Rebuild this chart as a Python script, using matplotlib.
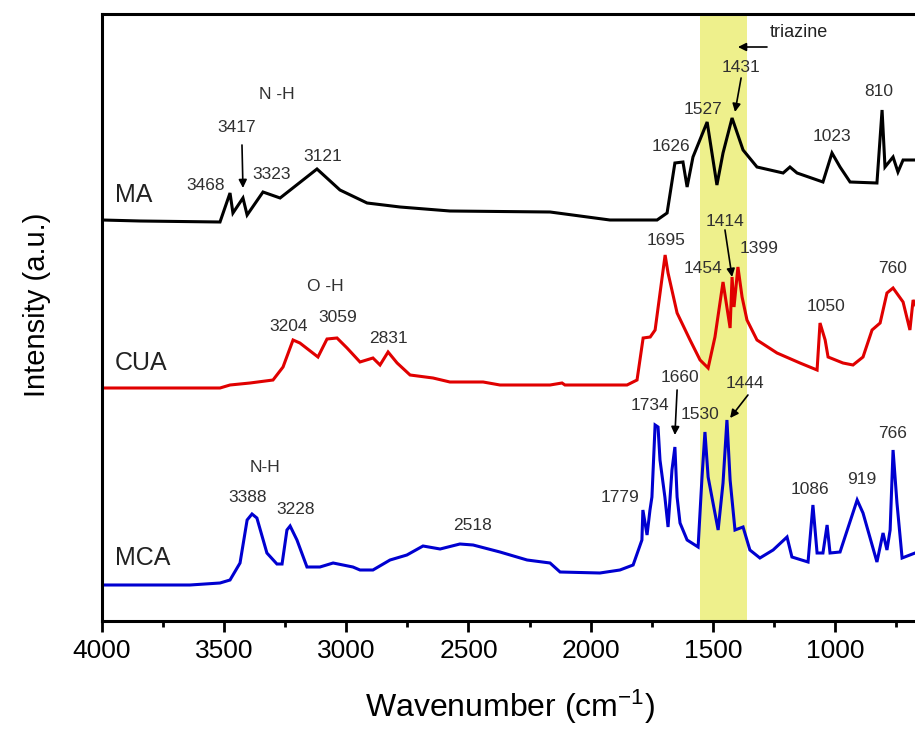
import matplotlib
matplotlib.use("Agg")
import matplotlib.pyplot as plt

plt.rcParams['font.family'] = ['Liberation Sans', 'DejaVu Sans']
plt.rcParams['mathtext.default'] = 'regular'

# FTIR spectra: wavenumber (cm-1) and intensity (a.u., already offset)
ma_wn = [4000, 3844, 3517, 3476, 3464, 3423, 3406, 3341, 3271, 3120, 3026, 2915,
         2780, 2576, 2166, 1921, 1728, 1687, 1655, 1622, 1605, 1581, 1523, 1483,
         1458, 1421, 1376, 1319, 1212, 1184, 1155, 1049, 1012, 979, 938, 828, 807,
         795, 762, 742, 721, 672, 600]
ma_int = [401, 400, 399, 428, 408, 423, 406, 429, 423, 452, 431, 418,
          414, 410, 409, 401, 401, 408, 458, 459, 434, 464, 499, 436,
          468, 503, 471, 454, 448, 454, 448, 439, 468, 454, 439, 438, 511,
          454, 464, 449, 461, 461, 458]

cua_wn = [4000, 3517, 3476, 3394, 3300, 3259, 3218, 3190, 3116, 3079, 3038, 2997,
          2944, 2891, 2862, 2829, 2792, 2739, 2645, 2576, 2440, 2371, 2166, 2117,
          2105, 1851, 1810, 1785, 1756, 1736, 1695, 1683, 1646, 1593, 1552, 1519,
          1491, 1458, 1429, 1421, 1413, 1397, 1380, 1360, 1319, 1237, 1143, 1073,
          1061, 1040, 1028, 967, 926, 885, 848, 815, 787, 762, 721, 693, 680, 660]
cua_int = [233, 233, 236, 238, 241, 254, 281, 278, 264, 282, 283, 273,
           259, 263, 256, 269, 258, 246, 243, 239, 239, 236, 236, 238,
           236, 236, 241, 283, 284, 291, 366, 348, 308, 281, 261, 253,
           284, 339, 293, 344, 314, 354, 324, 301, 281, 268, 258, 251,
           298, 281, 264, 258, 256, 264, 291, 298, 328, 333, 319, 291, 321, 311]

mca_wn = [4000, 3640, 3517, 3476, 3435, 3406, 3386, 3366, 3325, 3284, 3263, 3243,
          3230, 3202, 3161, 3108, 3054, 2973, 2944, 2891, 2821, 2752, 2686, 2616,
          2535, 2481, 2371, 2260, 2166, 2125, 1962, 1880, 1826, 1790, 1786, 1769,
          1757, 1749, 1736, 1724, 1716, 1696, 1683, 1667, 1655, 1646, 1634, 1605,
          1560, 1544, 1532, 1519, 1478, 1458, 1442, 1429, 1409, 1376, 1348, 1307,
          1253, 1196, 1176, 1110, 1090, 1073, 1049, 1032, 1020, 979, 909, 885,
          828, 803, 787, 774, 762, 746, 725, 672, 610]
mca_int = [36, 36, 38, 41, 58, 101, 107, 103, 68, 57, 57, 91,
           95, 81, 54, 54, 58, 54, 51, 51, 61, 66, 75, 72,
           77, 76, 69, 61, 58, 49, 48, 51, 56, 81, 111, 86,
           111, 124, 196, 194, 161, 124, 94, 151, 174, 124, 98, 81,
           74, 144, 189, 144, 91, 138, 201, 141, 91, 94, 71, 63,
           71, 84, 64, 59, 116, 68, 68, 96, 68, 69, 121, 108,
           59, 88, 71, 91, 171, 118, 63, 68, 66]

sample_names = ["MA", "CUA", "MCA"]
sample_colors = ["black", "#e00000", "#0000d0"]

# peak labels: (text, wavenumber, intensity) for label placement
ma_peaks = [("3468", 3574, 435), ("3417", 3447, 493), ("3323", 3304, 446),
            ("3121", 3095, 464), ("N -H", 3284, 526), ("1626", 1671, 474),
            ("1527", 1540, 511), ("1431", 1384, 553), ("1023", 1012, 484),
            ("810", 820, 529)]
cua_peaks = [("O -H", 3087, 334), ("3204", 3235, 294), ("3059", 3034, 303),
             ("2831", 2829, 282), ("1695", 1691, 380), ("1414", 1450, 399),
             ("1454", 1540, 352), ("1399", 1311, 372), ("1050", 1036, 314),
             ("760", 766, 352)]
mca_peaks = [("N-H", 3333, 153), ("3388", 3402, 123), ("3228", 3206, 112),
             ("2518", 2485, 95), ("1779", 1880, 123), ("1734", 1757, 215),
             ("1660", 1634, 243), ("1530", 1552, 206), ("1444", 1368, 237),
             ("1086", 1102, 131), ("919", 889, 142), ("766", 766, 188)]

# arrows: (start wn, start int, end wn, end int)
arrows = [(3427, 476, 3423, 433), (1384, 543, 1409, 509), (1278, 574, 1397, 574),
          (1450, 391, 1421, 344), (1646, 231, 1655, 186), (1356, 226, 1429, 203)]

triazine_band = (1552, 1360)

fig = plt.figure(figsize=(9.15, 7.37), dpi=100)
ax = fig.add_axes([102 / 915, 116 / 737, 0.9612, 607 / 737])

ax.axvspan(triazine_band[0], triazine_band[1], color="#eef08c", zorder=0, lw=0)

for wn, inten, c in zip([ma_wn, cua_wn, mca_wn], [ma_int, cua_int, mca_int], sample_colors):
    ax.plot(wn, inten, color=c, lw=2.2, solid_joinstyle='miter', zorder=2)

ax.text(3947, 426, "MA", fontsize=18, color="#222222", va="center", ha="left")
ax.text(3947, 258, "CUA", fontsize=18, color="#222222", va="center", ha="left")
ax.text(3947, 63, "MCA", fontsize=18, color="#222222", va="center", ha="left")

for peaks in [ma_peaks, cua_peaks, mca_peaks]:
    for txt, x, y in peaks:
        ax.text(x, y, txt, fontsize=12.5, color="#303030", ha="center", va="center", zorder=3)

ax.text(1266, 588, "triazine", fontsize=13, color="#222222", ha="left", va="center")

for x0, y0, x1, y1 in arrows:
    ax.annotate("", xy=(x1, y1), xytext=(x0, y0),
                arrowprops=dict(arrowstyle="-|>", color="black", lw=1.2,
                                mutation_scale=12, shrinkA=0, shrinkB=0), zorder=4)

ax.set_xlim(4000, 400)
ax.set_ylim(0, 607)
ax.set_xticks([4000, 3500, 3000, 2500, 2000, 1500, 1000])
ax.set_xticks([3750, 3250, 2750, 2250, 1750, 1250, 750], minor=True)
ax.set_yticks([])
ax.tick_params(axis='x', which='major', direction='out', length=8, width=2,
               labelsize=19, pad=5)
ax.tick_params(axis='x', which='minor', direction='out', length=4.5, width=2)
for s in ax.spines.values():
    s.set_linewidth(2.2)

fig.text(510 / 915, 20 / 737, "Wavenumber (cm$^{-1}$)", fontsize=23,
         ha="center", va="baseline")
fig.text(37 / 915, 1 - 305 / 737, "Intensity (a.u.)", fontsize=21,
         ha="center", va="center", rotation=90)

fig.savefig("out.png", dpi=100)
